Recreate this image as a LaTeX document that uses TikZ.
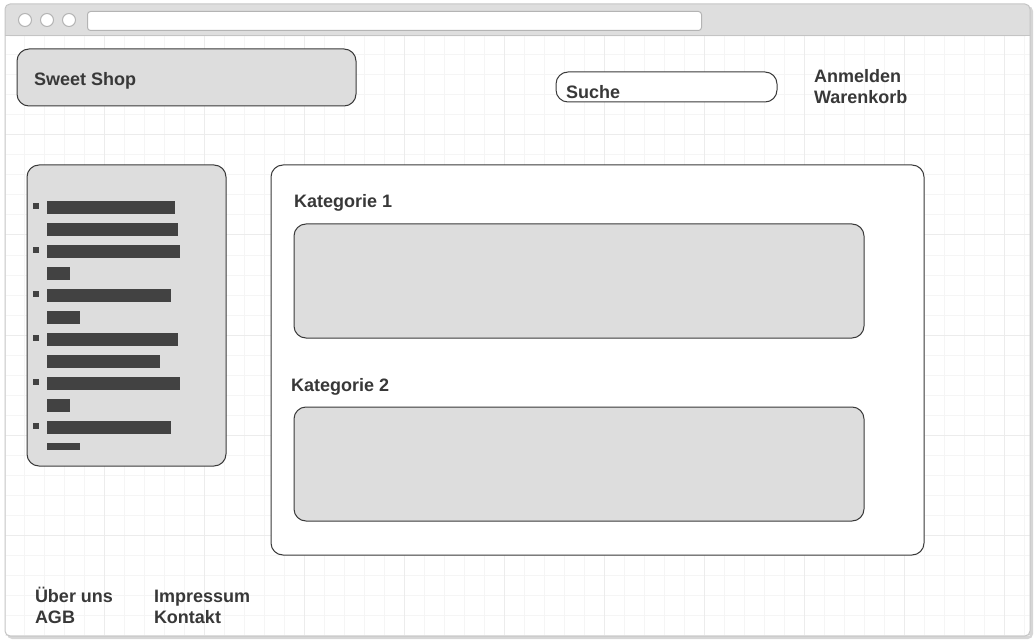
\documentclass[tikz,border=0pt]{standalone}
\usepackage{fontspec}
\setmainfont{Liberation Sans}
\definecolor{txtc}{HTML}{383838}
\definecolor{linec}{HTML}{3A3A3A}
\definecolor{boxc}{HTML}{DDDDDD}
\definecolor{barc}{HTML}{424242}
\definecolor{framec}{HTML}{C4C4C4}
\definecolor{topc}{HTML}{DEDEDE}
\definecolor{shadowc}{HTML}{D6D6D6}
\definecolor{circc}{HTML}{B4B4B4}
\definecolor{gridminor}{HTML}{F5F5F5}
\definecolor{gridmajor}{HTML}{ECECEC}
\begin{document}
\begin{tikzpicture}[x=1pt,y=-1pt,
  txt/.style={font=\bfseries\fontsize{18}{21}\selectfont, text=txtc, anchor=base west, inner sep=0pt, outer sep=0pt},
  gbox/.style={draw=linec, line width=1pt, fill=boxc, rounded corners=12pt, anchor=north west, inner sep=0pt, outer sep=0pt},
  wbox/.style={gbox, fill=white},
  barbox/.style={fill=barc, anchor=north west, inner sep=0pt, outer sep=0pt, minimum height=13pt},
  bulbox/.style={fill=barc, inner sep=0pt, outer sep=0pt, minimum size=6pt},
  dot/.style={circle, draw=circc, line width=1pt, fill=white, minimum size=13pt, inner sep=0pt},
]
\useasboundingbox (0,0) rectangle (1035,644);
% frame shadow and body
\fill[shadowc, rounded corners=5pt] (7,6) rectangle (1033,639);
\node (frame) [fill=white, rounded corners=5pt, minimum width=1025pt, minimum height=632pt, anchor=north west, inner sep=0pt] at (5,4) {};
% grid
\begin{scope}
  \clip (5.5,36) rectangle (1029.5,636);
  \foreach \x in {4.5,24.5,...,1030} \draw[gridminor, line width=1pt] (\x,36) -- (\x,636);
  \foreach \y in {35,55,...,640} \draw[gridminor, line width=1pt] (5,\y) -- (1030,\y);
  \foreach \x in {104.5,204.5,...,1030} \draw[gridmajor, line width=1pt] (\x,36) -- (\x,636);
  \foreach \y in {135,235,...,640} \draw[gridmajor, line width=1pt] (5,\y) -- (1030,\y);
\end{scope}
% top bar
\node (topbar) [fill=topc, rounded corners=5pt, minimum width=1025pt, minimum height=32pt, anchor=north west, inner sep=0pt] at (5,4) {};
\fill[topc] (5,20) rectangle (1030,36);
\draw[framec, line width=1pt] (5,36) -- (1030,36);
\draw[framec, line width=1pt, rounded corners=5pt] (5,4) rectangle (1030,636);
\node (c1) [dot] at (25,20) {};
\node (c2) [dot] at (47,20) {};
\node (c3) [dot] at (69,20) {};
\node (addr) [draw=circc, line width=1pt, fill=white, rounded corners=3pt, minimum width=614pt, minimum height=19pt, anchor=north west, inner sep=0pt] at (87,11) {};
% header
\node (shop) [gbox, minimum width=339pt, minimum height=57pt] at (17,49) {};
\node (shoptxt) [txt] at (34,85.5) {Sweet Shop};
\node (search) [wbox, minimum width=221pt, minimum height=30pt] at (556,72) {};
\node (searchtxt) [txt] at (566,98.5) {Suche};
\node (login) [txt] at (814,82.5) {Anmelden};
\node (cart) [txt] at (814,103.5) {Warenkorb};
% sidebar
\node (side) [gbox, minimum width=199pt, minimum height=301pt] at (27,165) {};
\foreach \i/\y/\r in {1/201/175, 2/223/178, 3/245/180, 4/267/70, 5/289/171, 6/311/80, 7/333/178, 8/355/160, 9/377/180, 10/399/70, 11/421/171}
  \node (bar\i) [barbox, minimum width={\r-47}] at (47,\y) {};
\node (bar12) [barbox, minimum width=33pt, minimum height=7pt] at (47,443) {};
\foreach \i/\y in {1/206, 2/250, 3/294, 4/338, 5/382, 6/426}
  \node (bul\i) [bulbox] at (36,\y) {};
% main
\node (main) [wbox, minimum width=653pt, minimum height=390pt] at (271,165) {};
\node (kat1) [txt] at (294,207.5) {Kategorie 1};
\node (box1) [gbox, minimum width=570pt, minimum height=114pt] at (294,224) {};
\node (kat2) [txt] at (291,391.5) {Kategorie 2};
\node (box2) [gbox, minimum width=570pt, minimum height=114pt] at (294,407) {};
% footer
\node (about) [txt] at (35,602.5) {Über uns};
\node (agb) [txt] at (35,623.5) {AGB};
\node (imp) [txt] at (154,602.5) {Impressum};
\node (contact) [txt] at (154,623.5) {Kontakt};
\end{tikzpicture}
\end{document}
